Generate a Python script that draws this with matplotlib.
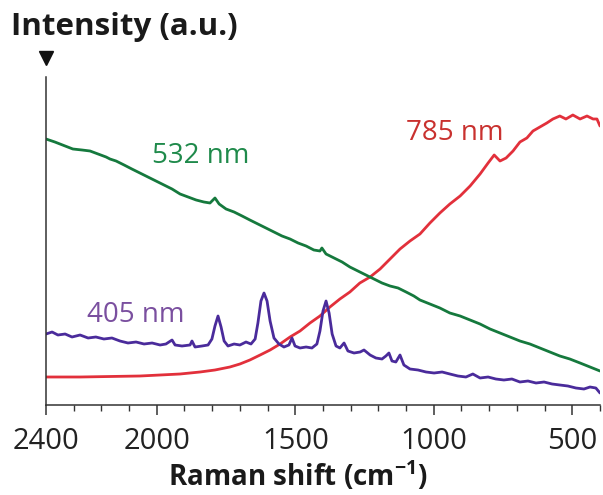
import matplotlib
matplotlib.use("Agg")
import matplotlib.pyplot as plt
from matplotlib.ticker import FixedLocator, MultipleLocator

plt.rcParams['font.family'] = ['Open Sans', 'DejaVu Sans']
plt.rcParams['mathtext.fontset'] = 'custom'
plt.rcParams['mathtext.rm'] = 'Open Sans'
plt.rcParams['mathtext.bf'] = 'Open Sans:bold'

# ---- data (Raman shift in cm^-1, intensity in arbitrary units) ----
shift_405 = [2400, 2378, 2357, 2331, 2306, 2277, 2248, 2220, 2191, 2162, 2133, 2104, 2075, 2046,
             2017, 1988, 1967, 1945, 1934, 1909, 1880, 1873, 1862, 1837, 1815, 1801, 1790, 1779,
             1768, 1757, 1743, 1721, 1700, 1678, 1660, 1645, 1635, 1624, 1613, 1602, 1591, 1577,
             1559, 1541, 1523, 1512, 1501, 1483, 1461, 1440, 1422, 1411, 1400, 1389, 1378, 1367,
             1353, 1339, 1324, 1310, 1288, 1266, 1252, 1230, 1209, 1187, 1173, 1162, 1151, 1137,
             1122, 1108, 1086, 1057, 1028, 999, 970, 942, 913, 884, 859, 833, 804, 776, 747, 718,
             689, 660, 631, 602, 573, 545, 516, 487, 458, 436, 415, 400]
int_405 = [71, 73, 70, 71, 68, 70, 67, 68, 66, 67, 64, 62, 63, 61,
           62, 60, 61, 65, 60, 59, 60, 64, 58, 59, 60, 66, 79, 89,
           78, 64, 59, 61, 60, 63, 61, 66, 82, 104, 112, 104, 84, 67,
           61, 58, 60, 67, 59, 57, 58, 57, 61, 74, 94, 104, 92, 71,
           59, 57, 62, 54, 52, 53, 55, 50, 47, 46, 49, 52, 44, 43,
           50, 40, 36, 35, 33, 32, 33, 31, 29, 28, 31, 27, 28, 26, 25, 26,
           23, 24, 22, 23, 21, 20, 19, 17, 16, 18, 17, 12]

shift_532 = [2400, 2368, 2331, 2303, 2270, 2241, 2212, 2183, 2169, 2147, 2118, 2090, 2061, 2032,
             2003, 1974, 1945, 1916, 1887, 1858, 1830, 1808, 1790, 1775, 1750, 1721, 1692, 1664,
             1635, 1606, 1577, 1548, 1519, 1490, 1461, 1433, 1411, 1404, 1389, 1360, 1331, 1303,
             1274, 1245, 1216, 1187, 1158, 1129, 1100, 1072, 1050, 1014, 978, 942, 905, 869, 833,
             797, 761, 725, 689, 653, 617, 581, 545, 509, 472, 436, 400]
int_532 = [266, 263, 259, 256, 255, 254, 251, 248, 246, 244, 240, 236, 232, 228,
           224, 220, 216, 211, 208, 205, 203, 202, 207, 201, 196, 193, 189, 185,
           181, 177, 173, 169, 166, 162, 159, 155, 154, 157, 151, 147, 143, 138,
           134, 130, 126, 122, 119, 117, 113, 109, 105, 101, 97, 92, 89, 85, 81,
           76, 72, 68, 64, 61, 57, 53, 49, 46, 42, 38, 34]

shift_785 = [2400, 2277, 2169, 2061, 1988, 1916, 1844, 1790, 1736, 1700, 1664, 1627, 1591, 1555,
             1519, 1483, 1447, 1411, 1375, 1339, 1303, 1267, 1230, 1194, 1158, 1122, 1086, 1050,
             1014, 978, 942, 905, 869, 833, 804, 782, 761, 739, 714, 689, 664, 642, 617, 592,
             570, 545, 523, 498, 472, 447, 425, 411, 400]
int_785 = [28, 28, 28.5, 29, 30, 31, 33, 35, 38, 41, 45, 50, 55, 61,
           68, 74, 82, 89, 98, 106, 113, 122, 128, 136, 146, 156, 164, 171,
           182, 192, 201, 209, 219, 231, 242, 250, 244, 247, 254, 263, 267, 274, 278, 282,
           286, 289, 286, 290, 286, 289, 286, 286, 279]

labels = ["405 nm", "532 nm", "785 nm"]
major_ticks = [2400, 2000, 1500, 1000, 500]
tick_labels = ["2400", "2000", "1500", "1000", "500"]

line_colors = ["#4a2b9b", "#15793d", "#e2303b"]
text_colors = ["#7a4f9f", "#1f8a4b", "#c9312f"]

fig = plt.figure(figsize=(6.03, 4.95), dpi=100)
ax = fig.add_axes([46/603, 1 - 405/495, 554/603, (405-77)/495])

ax.plot(shift_785, int_785, color=line_colors[2], lw=2.0, solid_capstyle='round')
ax.plot(shift_532, int_532, color=line_colors[1], lw=2.0, solid_capstyle='round')
ax.plot(shift_405, int_405, color=line_colors[0], lw=2.0, solid_capstyle='round')

ax.set_xlim(2400, 400)
ax.set_ylim(0, 328)

ax.xaxis.set_major_locator(FixedLocator(major_ticks))
ax.set_xticklabels(tick_labels)
ax.xaxis.set_minor_locator(MultipleLocator(100))
ax.tick_params(axis='x', which='major', direction='out', length=7, width=1.1,
               color='#333333', labelsize=21, pad=9, labelcolor='#222222')
ax.tick_params(axis='x', which='minor', direction='out', length=4.5, width=1.0, color='#333333')
ax.set_yticks([])
for s in ['top', 'right']:
    ax.spines[s].set_visible(False)
for s in ['left', 'bottom']:
    ax.spines[s].set_color('#333333')
    ax.spines[s].set_linewidth(1.1)

# series labels
ax.text(1840, 249, labels[1], color=text_colors[1], fontsize=20, ha='center', va='center')
ax.text(924, 272, labels[2], color=text_colors[2], fontsize=20, ha='center', va='center')
ax.text(2075, 90, labels[0], color=text_colors[0], fontsize=20, ha='center', va='center')

# y axis arrow and title
ax.plot([0], [1.058], marker='v', color='#111111', markersize=10,
        transform=ax.transAxes, clip_on=False)
fig.text(11/603, 1 - 27/495, "Intensity (a.u.)", fontsize=22.5, fontweight='bold',
         color='#1a1a1a', ha='left', va='center')
fig.text(298/603, 1 - 476/495, r"Raman shift (cm$^{\mathbf{-1}}$)", fontsize=20,
         fontweight='bold', color='#1a1a1a', ha='center', va='center')

fig.savefig("out.png", dpi=100)
